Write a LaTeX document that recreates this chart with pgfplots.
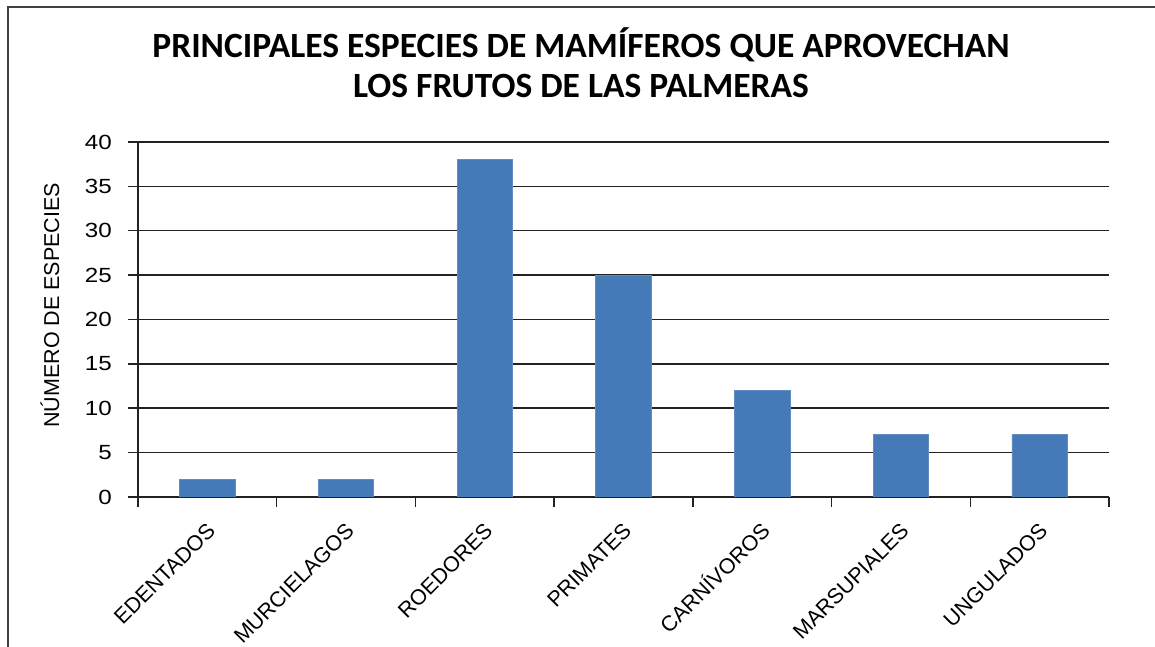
\documentclass[border=0pt]{standalone}
\usepackage{pgfplots}
\pgfplotsset{compat=1.18}
\usepackage{fontspec}
\setmainfont{Liberation Sans}
\newfontfamily\titlefont{Carlito}
\newfontfamily\numfont[FakeStretch=1.18]{Liberation Sans}
\definecolor{barblue}{HTML}{4579B8}
\definecolor{gridc}{HTML}{222222}
\begin{document}
\begin{tikzpicture}[x=1pt,y=1pt]
\useasboundingbox (0,0) rectangle (1155,647);
\draw[line width=2pt, color=black!75] (8,0) -- (8,640) -- (1155,640);
\node[font=\titlefont\bfseries\fontsize{35.5}{40}\selectfont] at (581,602) {PRINCIPALES ESPECIES DE MAMÍFEROS QUE APROVECHAN};
\node[font=\titlefont\bfseries\fontsize{35.5}{40}\selectfont] at (581,561) {LOS FRUTOS DE LAS PALMERAS};
\begin{axis}[
  at={(138pt,150pt)}, anchor=south west,
  width=971pt, height=355pt, scale only axis,
  xmin=-0.5, xmax=6.5, ymin=0, ymax=40,
  ytick={0,5,...,40},
  xtick={0,...,6},
  xticklabels={EDENTADOS, MURCIELAGOS, ROEDORES, PRIMATES, CARNÍVOROS, MARSUPIALES, UNGULADOS},
  minor xtick={-0.5,0.5,...,6.5},
  axis x line=bottom, axis y line=left,
  axis line style={-, line width=1.5pt, color=gridc},
  ymajorgrids, grid style={line width=1.5pt, color=gridc},
  tick align=outside,
  major tick length=10pt, minor tick length=10pt,
  tick style={line width=1.5pt, color=gridc},
  major x tick style={draw=none},
  /pgf/number format/assume math mode=true,
  yticklabel style={font=\numfont\fontsize{20.5}{24}\selectfont, inner sep=0pt, xshift=-16pt},
  xticklabel style={font=\fontsize{21.5}{24}\selectfont, inner sep=0pt, text height=0.72em, xshift=4pt, yshift=-20pt, rotate=45, anchor=north east},
  ylabel={NÚMERO DE ESPECIES},
  ylabel style={font=\fontsize{21.5}{24}\selectfont, at={(axis description cs:-0.0906,0.54)}, anchor=center},
]
\addplot[ybar, bar width=0.4, fill=barblue, draw=barblue!85!white, line width=0.8pt]
  coordinates {(0,2) (1,2) (2,38) (3,25) (4,12) (5,7) (6,7)};
\end{axis}
\end{tikzpicture}
\end{document}
